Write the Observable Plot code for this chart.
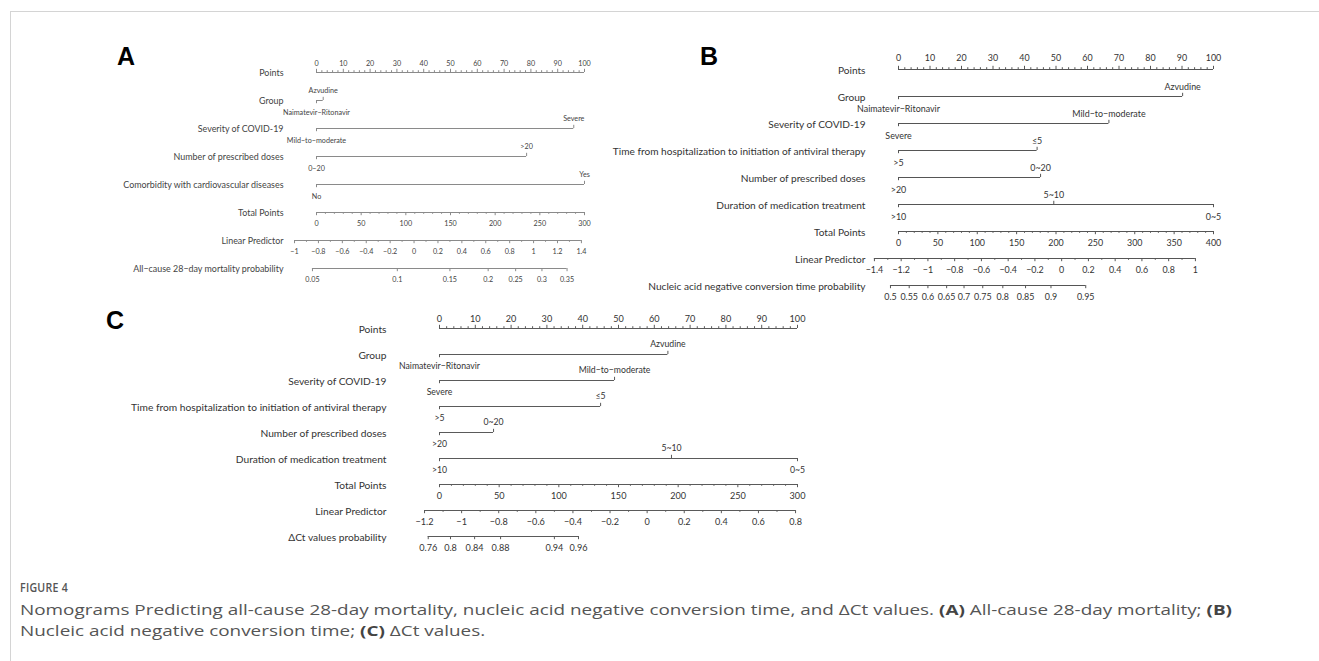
<!DOCTYPE html>
<html><head><meta charset="utf-8">
<script src="https://cdn.jsdelivr.net/npm/d3@7"></script>
<script src="https://cdn.jsdelivr.net/npm/@observablehq/plot@0.6"></script>
<style>
html,body{margin:0;padding:0;background:#fff;overflow:hidden}
#root{position:relative;width:1319px;height:661px;background:#fff}
#root svg{position:absolute;left:0;top:0}
.ftop{position:absolute;left:10px;top:11px;right:0;border-top:1.5px solid #d4d4d4}
.fleft{position:absolute;left:10px;top:11px;bottom:0;border-left:1.5px solid #d4d4d4}
.cap{position:absolute;left:20px;white-space:nowrap;transform-origin:0 50%;font-family:"Open Sans","Noto Sans",sans-serif;color:#555;line-height:20px}
.cap b{color:#444;font-weight:700}
</style></head><body><div id="root">
<div class="ftop"></div><div class="fleft"></div>
<svg width="1319" height="661" style="z-index:2">
<g font-family="'Liberation Sans',Arial,sans-serif" font-weight="bold" font-size="25" fill="#000">
<text x="117" y="65">A</text><text x="700" y="65">B</text><text x="106" y="329">C</text></g></svg>
<div class="cap" id="figlab" style="top:578px;font-size:12px;font-weight:600;letter-spacing:0.3px">FIGURE 4</div>
<div class="cap" id="cap1" style="top:599px;font-size:15px">Nomograms Predicting all-cause 28-day mortality, nucleic acid negative conversion time, and ΔCt values. <b>(A)</b> All-cause 28-day mortality; <b>(B)</b></div>
<div class="cap" id="cap2" style="top:620px;font-size:15px">Nucleic acid negative conversion time; <b>(C)</b> ΔCt values.</div>
</div>
<script>
// ---------------- Panel A: all-cause 28-day mortality ----------------
const rowsA = ["Points","Group","Severity of COVID-19","Number of prescribed doses","Comorbidity with cardiovascular diseases","Total Points","Linear Predictor","All−cause 28−day mortality probability"];
const groupA_levels = ["Naimatevir−Ritonavir","Azvudine"];
const groupA_points = [0, 2.5];
const severityA_levels = ["Mild−to−moderate","Severe"];
const severityA_points = [0, 96];
const dosesA_levels = ["0−20",">20"];
const dosesA_points = [0, 78.4];
const cardioA_levels = ["No","Yes"];
const cardioA_points = [0, 100];
const totalA_ticks = [0,50,100,150,200,250,300];
const lpA_ticks = [-1,-0.8,-0.6,-0.4,-0.2,0,0.2,0.4,0.6,0.8,1,1.2,1.4];
const lpA_at0 = 36.4, lpA_perUnit = 44.6;        // LP position on the points scale
const probA_ticks = ["0.05","0.1","0.15","0.2","0.25","0.3","0.35"];
const probA_lp = [-0.85,-0.14,0.30,0.62,0.85,1.07,1.28];

// ---------------- Panel B: nucleic acid negative conversion time ----------------
const rowsB = ["Points","Group","Severity of COVID-19","Time from hospitalization to initiation of antiviral therapy","Number of prescribed doses","Duration of medication treatment","Total Points","Linear Predictor","Nucleic acid negative conversion time probability"];
const groupB_levels = ["Naimatevir−Ritonavir","Azvudine"];
const groupB_points = [0, 90.2];
const severityB_levels = ["Severe","Mild−to−moderate"];
const severityB_points = [0, 66.8];
const timeB_levels = [">5","≤5"];
const timeB_points = [0, 44];
const dosesB_levels = [">20","0~20"];
const dosesB_points = [0, 45.1];
const durationB_levels = [">10","5~10","0~5"];
const durationB_points = [0, 49.3, 100];
const totalB_ticks = [0,50,100,150,200,250,300,350,400];
const lpB_ticks = [-1.4,-1.2,-1,-0.8,-0.6,-0.4,-0.2,0,0.2,0.4,0.6,0.8,1];
const lpB_at0 = 51.8, lpB_perUnit = 42.46;
const probB_ticks = ["0.5","0.55","0.6","0.65","0.7","0.75","0.8","0.85","0.9","0.95"];
const probB_lp = [-1.28,-1.14,-1.0,-0.86,-0.73,-0.59,-0.44,-0.27,-0.08,0.18];

// ---------------- Panel C: ΔCt values ----------------
const rowsC = ["Points","Group","Severity of COVID-19","Time from hospitalization to initiation of antiviral therapy","Number of prescribed doses","Duration of medication treatment","Total Points","Linear Predictor","ΔCt values probability"];
const groupC_levels = ["Naimatevir−Ritonavir","Azvudine"];
const groupC_points = [0, 63.8];
const severityC_levels = ["Severe","Mild−to−moderate"];
const severityC_points = [0, 48.9];
const timeC_levels = [">5","≤5"];
const timeC_points = [0, 45];
const dosesC_levels = [">20","0~20"];
const dosesC_points = [0, 15.1];
const durationC_levels = [">10","5~10","0~5"];
const durationC_points = [0, 64.8, 100];
const totalC_ticks = [0,50,100,150,200,250,300];
const lpC_ticks = [-1.2,-1,-0.8,-0.6,-0.4,-0.2,0,0.2,0.4,0.6,0.8];
const lpC_at0 = 58.0, lpC_perUnit = 51.82;
const probC_ticks = ["0.76","0.8","0.84","0.88","0.94","0.96"];
const probC_lp = [-1.18,-1.06,-0.93,-0.79,-0.50,-0.37];

const pointsTicks = [0,10,20,30,40,50,60,70,80,90,100];

// ---------------- helpers ----------------
const FONT = 'Lato, "Open Sans", "Noto Sans", sans-serif';
const ctx = document.createElement("canvas").getContext("2d");
function fit(text, target) { ctx.font = `100px ${FONT}`; return 100 * target / ctx.measureText(text).width; }
const fmt = v => String(v).replace("-", "−");

function panel(p) {
  const R = p.rows;
  const toPts = lp => p.lpAt0 + p.lpPerUnit * lp;
  const lines = [], up = [], upMinor = [], down = [], downMinor = [];
  const ptsLab = [], above = [], below = [], axisLab = [];
  // Points scale
  lines.push({row: R[0], x1: 0, x2: 100});
  pointsTicks.forEach(v => { up.push({row: R[0], x: v}); ptsLab.push({row: R[0], x: v, text: String(v)}); });
  d3.range(0, 101, 2).filter(v => v % 10).forEach(v => upMinor.push({row: R[0], x: v}));
  // predictor rows
  p.factors.forEach(([levels, points], k) => {
    const row = R[1 + k];
    lines.push({row, x1: d3.min(points), x2: d3.max(points)});
    d3.sort(d3.range(levels.length), i => points[i]).forEach((i, j) => {
      const isBelow = j % 2 === 0;
      (isBelow ? down : up).push({row, x: points[i]});
      (isBelow ? below : above).push({row, x: points[i], text: levels[i]});
    });
  });
  const rT = R[R.length - 3], rL = R[R.length - 2], rP = R[R.length - 1];
  // Total points
  const tMax = d3.max(p.totalTicks), tk = 100 / tMax;
  lines.push({row: rT, x1: 0, x2: 100});
  p.totalTicks.forEach(v => { down.push({row: rT, x: v * tk}); axisLab.push({row: rT, x: v * tk, text: String(v)}); });
  d3.range(0, tMax + 1, 10).filter(v => v % 50).forEach(v => downMinor.push({row: rT, x: v * tk}));
  // Linear predictor
  const lo = d3.min(p.lpTicks), hi = d3.max(p.lpTicks);
  lines.push({row: rL, x1: toPts(lo), x2: toPts(hi)});
  p.lpTicks.forEach(v => { down.push({row: rL, x: toPts(v)}); axisLab.push({row: rL, x: toPts(v), text: fmt(v)}); });
  d3.range(Math.round(lo * 10), Math.round(hi * 10) + 1).filter(k => k % 2 !== 0).forEach(k => downMinor.push({row: rL, x: toPts(k / 10)}));
  // Probability
  lines.push({row: rP, x1: toPts(p.probLP[0]), x2: toPts(p.probLP[p.probLP.length - 1])});
  p.probTicks.forEach((t, i) => { down.push({row: rP, x: toPts(p.probLP[i])}); axisLab.push({row: rP, x: toPts(p.probLP[i]), text: t}); });

  const rowFont = fit(p.longRow, p.longRowWidth);
  const valFont = fit("Naimatevir−Ritonavir", p.valWidth);
  const tickFont = valFont * p.tickScale;
  const st = {stroke: p.lineColor, strokeWidth: 1};
  const plot = Plot.plot({
    width: 1319, height: 661,
    marginLeft: p.labelRight, marginRight: 0, marginTop: 0, marginBottom: 0,
    x: {domain: [0, 100], range: p.xRange, axis: null},
    y: {type: "point", domain: R, range: p.yRange, padding: 0, axis: null},
    style: {background: "transparent", fontFamily: FONT, overflow: "visible"},
    marks: [
      Plot.text(R, {y: d => d, text: d => d, frameAnchor: "left", textAnchor: "end", dy: 1, fontSize: rowFont, fill: p.textColor}),
      Plot.ruleY(lines, {y: "row", x1: "x1", x2: "x2", ...st}),
      Plot.ruleX(up, {x: "x", y1: "row", y2: "row", insetTop: -3.2, ...st}),
      Plot.ruleX(upMinor, {x: "x", y1: "row", y2: "row", insetTop: -1.8, ...st}),
      Plot.ruleX(down, {x: "x", y1: "row", y2: "row", insetBottom: -3.2, ...st}),
      Plot.ruleX(downMinor, {x: "x", y1: "row", y2: "row", insetBottom: -1.8, ...st}),
      Plot.text(ptsLab, {x: "x", y: "row", text: "text", dy: p.dyPts, fontSize: tickFont, fill: p.textColor}),
      Plot.text(above, {x: "x", y: "row", text: "text", dy: p.dyAbove, fontSize: valFont, fill: p.textColor}),
      Plot.text(below, {x: "x", y: "row", text: "text", dy: p.dyBelow, fontSize: valFont, fill: p.textColor}),
      Plot.text(axisLab, {x: "x", y: "row", text: "text", dy: p.dyAxis, fontSize: tickFont, fill: p.textColor})
    ]
  });
  return plot;
}

const root = document.getElementById("root");
const panels = [
  {rows: rowsA, xRange: [316, 584], yRange: [71, 269], labelRight: 283,
   factors: [[groupA_levels, groupA_points], [severityA_levels, severityA_points], [dosesA_levels, dosesA_points], [cardioA_levels, cardioA_points]],
   totalTicks: totalA_ticks, lpTicks: lpA_ticks, lpAt0: lpA_at0, lpPerUnit: lpA_perUnit, probTicks: probA_ticks, probLP: probA_lp,
   longRow: "Comorbidity with cardiovascular diseases", longRowWidth: 161, valWidth: 67, tickScale: 1.0,
   dyPts: -9, dyAbove: -9.5, dyBelow: 12, dyAxis: 11.5, lineColor: "#8a8a8a", textColor: "#444"},
  {rows: rowsB, xRange: [898, 1213], yRange: [69, 285], labelRight: 865,
   factors: [[groupB_levels, groupB_points], [severityB_levels, severityB_points], [timeB_levels, timeB_points], [dosesB_levels, dosesB_points], [durationB_levels, durationB_points]],
   totalTicks: totalB_ticks, lpTicks: lpB_ticks, lpAt0: lpB_at0, lpPerUnit: lpB_perUnit, probTicks: probB_ticks, probLP: probB_lp,
   longRow: "Time from hospitalization to initiation of antiviral therapy", longRowWidth: 253, valWidth: 83, tickScale: 1.0,
   dyPts: -11, dyAbove: -9, dyBelow: 12.5, dyAxis: 11.5, lineColor: "#555", textColor: "#333"},
  {rows: rowsC, xRange: [439, 797], yRange: [327, 536], labelRight: 386,
   factors: [[groupC_levels, groupC_points], [severityC_levels, severityC_points], [timeC_levels, timeC_points], [dosesC_levels, dosesC_points], [durationC_levels, durationC_points]],
   totalTicks: totalC_ticks, lpTicks: lpC_ticks, lpAt0: lpC_at0, lpPerUnit: lpC_perUnit, probTicks: probC_ticks, probLP: probC_lp,
   longRow: "Time from hospitalization to initiation of antiviral therapy", longRowWidth: 256, valWidth: 81, tickScale: 1.05,
   dyPts: -9.5, dyAbove: -10.5, dyBelow: 11.5, dyAxis: 11.5, lineColor: "#5a5a5a", textColor: "#333"}
];
panels.forEach(p => root.appendChild(panel(p)));

// caption: condense horizontally to the reference line length
const c1 = document.getElementById("cap1"), c2 = document.getElementById("cap2"), fl = document.getElementById("figlab");
const s = 1212 / c1.getBoundingClientRect().width;
c1.style.transform = c2.style.transform = `scaleX(${s})`;
fl.style.transform = `scaleX(${48 / fl.getBoundingClientRect().width})`;
</script>
</body></html>
